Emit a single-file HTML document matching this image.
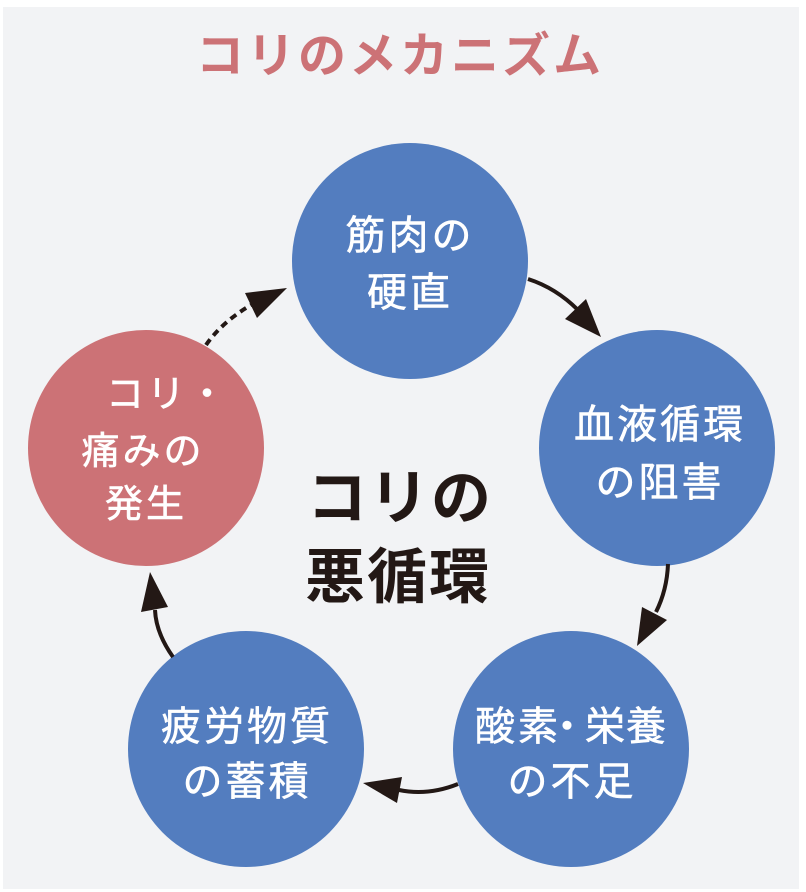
<!DOCTYPE html>
<html>
<head>
<meta charset="utf-8">
<style>
  html, body { margin: 0; padding: 0; background: #ffffff; }
  body { width: 806px; height: 892px; overflow: hidden; position: relative; }
  svg { position: absolute; left: 0; top: 0; }
  .jp { font-family: "Liberation Sans", "Noto Sans CJK JP", sans-serif; }
</style>
</head>
<body>
<svg width="806" height="892" viewBox="0 0 806 892" xmlns="http://www.w3.org/2000/svg">
  <!-- background panel -->
  <rect x="3" y="7" width="796" height="882" fill="#f2f3f5"/>

  <!-- title -->
  <text class="jp" x="400" y="72" text-anchor="middle" font-size="48" font-weight="700" letter-spacing="3" fill="#cc7276">コリのメカニズム</text>

  <!-- circles -->
  <circle cx="410" cy="261" r="118" fill="#537dbf"/>
  <circle cx="657" cy="448" r="118" fill="#537dbf"/>
  <circle cx="571" cy="749" r="118" fill="#537dbf"/>
  <circle cx="246" cy="749" r="118" fill="#537dbf"/>
  <circle cx="146" cy="448" r="118" fill="#cc7276"/>

  <!-- arrows -->
  <g stroke="#231815" stroke-width="4" fill="none" stroke-linecap="butt">
    <path d="M528,279 Q556,288 578,310"/>
    <path d="M668,564 Q667,590 656,612"/>
    <path d="M458,784 Q428,796 399,790"/>
    <path d="M173,657 Q156,633 155,610"/>
    <path d="M206,345 Q222,322 251,305" stroke-dasharray="7 5"/>
  </g>
  <g fill="#231815">
    <polygon points="565,319 586,299 601,337"/>
    <polygon points="642,607 667,620 637,646"/>
    <polygon points="402,777 397,803 363,783"/>
    <polygon points="141,612 168,607 150,572"/>
    <polygon points="245,293 257,318 287,288"/>
  </g>

  <!-- circle labels -->
  <g class="jp" fill="#ffffff" stroke="#ffffff" stroke-width="0.6" font-size="40" letter-spacing="3">
    <text x="410" y="249" text-anchor="middle">筋肉の</text>
    <text x="410" y="306" text-anchor="middle">硬直</text>

    <text x="660" y="438" text-anchor="middle">血液循環</text>
    <text x="660" y="496" text-anchor="middle">の阻害</text>

    <text x="247" y="740" text-anchor="middle">疲労物質</text>
    <text x="247" y="795" text-anchor="middle">の蓄積</text>

    <text x="475 518 547 585 626" y="740" letter-spacing="0">酸素・栄養</text>
    <text x="572" y="795" text-anchor="middle">の不足</text>
  </g>
  <g class="jp" fill="#ffffff" stroke="#ffffff" stroke-width="0.6" font-size="38" letter-spacing="3">
    <text x="106" y="407">コリ・</text>
    <text x="143" y="464" text-anchor="middle">痛みの</text>
    <text x="146" y="517" text-anchor="middle">発生</text>
  </g>

  <!-- center label -->
  <g class="jp" fill="#231815" font-size="60" font-weight="700" letter-spacing="2">
    <text x="400" y="519" text-anchor="middle">コリの</text>
    <text x="398" y="598" text-anchor="middle">悪循環</text>
  </g>
</svg>
</body>
</html>
